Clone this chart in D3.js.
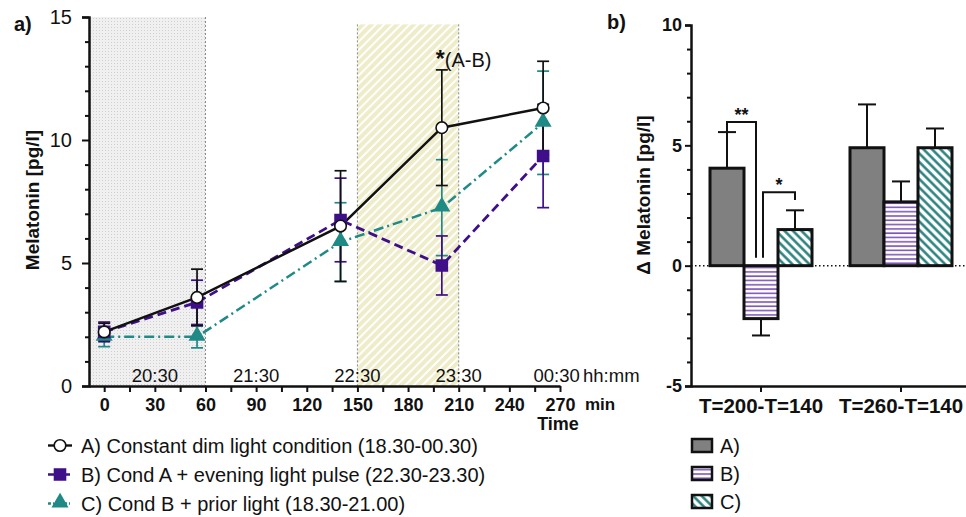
<!DOCTYPE html>
<html>
<head>
<meta charset="utf-8">
<script src="https://cdn.jsdelivr.net/npm/d3@7"></script>
<style>
	body { margin: 0; background: #fff; }
	svg { display: block; font-family: "Liberation Sans", Arial, sans-serif; }
</style>
</head>
<body>
<div id="chart"></div>
<script>
/*global d3*/

//left panel: melatonin over time
var times = [0, 55, 140, 200, 260];
var condA = [2.2, 3.6, 6.5, 10.5, 11.3];
var condAErr = [0.35, 1.15, 2.25, 2.35, 1.9];
var condB = [2.2, 3.4, 6.75, 4.9, 9.35];
var condBErr = [0.4, 0.9, 1.7, 1.2, 2.1];
var condC = [2.0, 2.0, 5.85, 7.25, 10.7];
var condCErr = [0.4, 0.45, 1.6, 1.95, 2.1];
var minuteTicks = [0, 30, 60, 90, 120, 150, 180, 210, 240, 270];
var hourTicks = [30, 90, 150, 210, 268];
var hourLabels = ["20:30", "21:30", "22:30", "23:30", "00:30"];
var dimRegion = [-9, 60, 15];
var pulseRegion = [150, 210, 14.7];
var legendA = ["A) Constant dim light condition (18.30-00.30)",
	"B) Cond A + evening light pulse (22.30-23.30)",
	"C) Cond B + prior light (18.30-21.00)"];

//right panel: delta melatonin
var groups = ["T=200-T=140", "T=260-T=140"];
var conds = ["A)", "B)", "C)"];
var deltaA = [4.05, 4.9];
var deltaAErr = [1.5, 1.8];
var deltaB = [-2.2, 2.65];
var deltaBErr = [0.7, 0.85];
var deltaC = [1.5, 4.9];
var deltaCErr = [0.8, 0.8];

var purple = "#3f0f8a";
var teal = "#1f8a86";

var svg = d3.select("#chart").append("svg")
	.attr("width", 966)
	.attr("height", 517);

var defs = svg.append("defs");

//dotted gray fill for the dim light period
var pDots = defs.append("pattern").attr("id", "dots")
	.attr("width", 3).attr("height", 3).attr("patternUnits", "userSpaceOnUse");
pDots.append("rect").attr("width", 3).attr("height", 3).attr("fill", "#f0f0f0");
pDots.append("rect").attr("width", 1).attr("height", 1).attr("fill", "#cfcfcf");

//yellow hatch for the light pulse
var pYel = defs.append("pattern").attr("id", "yellow")
	.attr("width", 6).attr("height", 6).attr("patternUnits", "userSpaceOnUse")
	.attr("patternTransform", "rotate(45)");
pYel.append("rect").attr("width", 6).attr("height", 6).attr("fill", "#efecc9");
pYel.append("line").attr("x1", 1).attr("y1", 0).attr("x2", 1).attr("y2", 6)
	.attr("stroke", "#fff").attr("stroke-width", 2);

//horizontal stripes for B bars
var pB = defs.append("pattern").attr("id", "stripesB")
	.attr("width", 6).attr("height", 4.3).attr("patternUnits", "userSpaceOnUse");
pB.append("rect").attr("width", 6).attr("height", 4.3).attr("fill", "#fff");
pB.append("line").attr("x1", 0).attr("y1", 1).attr("x2", 6).attr("y2", 1)
	.attr("stroke", "#7b55b6").attr("stroke-width", 1.6);

//diagonal stripes for C bars
var pC = defs.append("pattern").attr("id", "stripesC")
	.attr("width", 6).attr("height", 6).attr("patternUnits", "userSpaceOnUse")
	.attr("patternTransform", "rotate(-45)");
pC.append("rect").attr("width", 6).attr("height", 6).attr("fill", "#fff");
pC.append("line").attr("x1", 1.5).attr("y1", 0).attr("x2", 1.5).attr("y2", 6)
	.attr("stroke", "#1c7a76").attr("stroke-width", 2.4);

/* ---------- panel a ---------- */
var x = d3.scaleLinear().domain([-9, 270]).range([89, 560]);
var y = d3.scaleLinear().domain([0, 15]).range([386, 17]);

//shaded periods
svg.append("rect")
	.attr("x", x(dimRegion[0])).attr("y", y(dimRegion[2]))
	.attr("width", x(dimRegion[1]) - x(dimRegion[0]))
	.attr("height", y(0) - y(dimRegion[2]))
	.attr("fill", "url(#dots)");
svg.append("rect")
	.attr("x", x(pulseRegion[0])).attr("y", y(pulseRegion[2]))
	.attr("width", x(pulseRegion[1]) - x(pulseRegion[0]))
	.attr("height", y(0) - y(pulseRegion[2]))
	.attr("fill", "url(#yellow)");

var borders = [[dimRegion[1], dimRegion[2]], [pulseRegion[0], pulseRegion[2]], [pulseRegion[1], pulseRegion[2]]];
svg.append("g").selectAll("line").data(borders).enter().append("line")
	.attr("x1", function(d){return x(d[0]);})
	.attr("x2", function(d){return x(d[0]);})
	.attr("y1", function(d){return y(d[1]);})
	.attr("y2", y(0))
	.attr("stroke", "#888")
	.attr("stroke-width", 1)
	.attr("stroke-dasharray", "2,2");

//hour labels
svg.append("g").selectAll("text").data(hourTicks).enter().append("text")
	.attr("x", function(d){return x(d);})
	.attr("y", 382)
	.attr("text-anchor", "middle")
	.attr("font-size", "18.5px")
	.attr("fill", "#111")
	.text(function(d, i){return hourLabels[i];});
svg.append("text").attr("x", 583).attr("y", 382)
	.attr("font-size", "18.5px").attr("fill", "#111").text("hh:mm");

//axes
var yAxis = d3.axisLeft(y)
	.tickValues(d3.range(0, 16))
	.tickFormat(function(d){return d % 5 === 0 ? d : "";})
	.tickSize(7).tickPadding(10);
var gy = svg.append("g").attr("transform", "translate(89,0)").call(yAxis);
gy.selectAll(".tick line").attr("x2", function(d){return d % 5 === 0 ? -7 : -4;});
gy.selectAll("text").attr("font-size", "20px").attr("font-family", "Liberation Sans, Arial").attr("fill", "#111");

var xAxis = d3.axisBottom(x)
	.tickValues(d3.range(0, 271, 15))
	.tickFormat(function(d){return minuteTicks.indexOf(d) >= 0 ? d : "";})
	.tickSize(6).tickSizeOuter(0).tickPadding(6);
var gx = svg.append("g").attr("transform", "translate(0,386)").call(xAxis);
gx.selectAll("text").attr("font-size", "18px").attr("font-weight", "bold")
	.attr("font-family", "Liberation Sans, Arial").attr("fill", "#111");

[gx, gy].forEach(function(g){
	g.select(".domain").attr("stroke", "#111").attr("stroke-width", 2.5);
	g.selectAll(".tick line").attr("stroke", "#111").attr("stroke-width", 2);
});

svg.append("text").attr("x", 585).attr("y", 410)
	.attr("font-size", "17px").attr("font-weight", "bold").attr("fill", "#111").text("min");
svg.append("text").attr("x", 558).attr("y", 430).attr("text-anchor", "middle")
	.attr("font-size", "18px").attr("font-weight", "bold").attr("fill", "#111").text("Time");

svg.append("text")
	.attr("transform", "translate(39,200) rotate(-90)")
	.attr("text-anchor", "middle")
	.attr("font-size", "19px").attr("font-weight", "bold").attr("fill", "#111")
	.text("Melatonin [pg/l]");
svg.append("text").attr("x", 14).attr("y", 31)
	.attr("font-size", "20px").attr("font-weight", "bold").attr("fill", "#111").text("a)");

//series
var series = [
	{vals: condC, err: condCErr, color: teal, dash: "10,4,2,4", width: 2.5, shape: d3.symbolTriangle, size: 88, fill: teal},
	{vals: condB, err: condBErr, color: purple, dash: "9,5", width: 2.8, shape: d3.symbolSquare, size: 121, fill: purple},
	{vals: condA, err: condAErr, color: "#111", dash: null, width: 2.5, shape: d3.symbolCircle, size: 105, fill: "#fff"}
];

var line = d3.line()
	.x(function(d){return x(d[0]);})
	.y(function(d){return y(d[1]);});

series.forEach(function(s){
	var pts = times.map(function(t, i){return [t, s.vals[i], s.err[i]];});
	var eb = svg.append("g");
	eb.selectAll("line.v").data(pts).enter().append("line")
		.attr("x1", function(d){return x(d[0]);})
		.attr("x2", function(d){return x(d[0]);})
		.attr("y1", function(d){return y(d[1] - d[2]);})
		.attr("y2", function(d){return y(d[1] + d[2]);})
		.attr("stroke", s.color).attr("stroke-width", 1.7);
	[-1, 1].forEach(function(sign){
		eb.selectAll("line.c" + sign).data(pts).enter().append("line")
			.attr("x1", function(d){return x(d[0]) - 6;})
			.attr("x2", function(d){return x(d[0]) + 6;})
			.attr("y1", function(d){return y(d[1] + sign * d[2]);})
			.attr("y2", function(d){return y(d[1] + sign * d[2]);})
			.attr("stroke", s.color).attr("stroke-width", 1.7);
	});
	s.pts = pts;
});

series.forEach(function(s){
	svg.append("path").datum(s.pts)
		.attr("d", line)
		.attr("fill", "none")
		.attr("stroke", s.color)
		.attr("stroke-width", s.width)
		.attr("stroke-dasharray", s.dash);
});

series.forEach(function(s){
	svg.append("g").selectAll("path").data(s.pts).enter().append("path")
		.attr("d", d3.symbol().type(s.shape).size(s.size))
		.attr("transform", function(d){
			var dy = s.shape === d3.symbolTriangle ? -1 : 0;
			return "translate(" + x(d[0]) + "," + (y(d[1]) + dy) + ")";
		})
		.attr("fill", s.fill)
		.attr("stroke", s.color)
		.attr("stroke-width", 1.6);
});

//significance label
var star = svg.append("text").attr("x", x(200) - 6).attr("y", 67)
	.attr("font-size", "20px").attr("fill", "#111");
star.append("tspan").attr("font-weight", "bold").attr("font-size", "23px").text("*");
star.append("tspan").text("(A-B)");

//legend a
var legA = svg.append("g");
var legSeries = [series[2], series[1], series[0]];
legendA.forEach(function(label, i){
	var s = legSeries[i];
	var cy = 445.5 + i * 29;
	legA.append("line").attr("x1", 48).attr("x2", 72).attr("y1", cy).attr("y2", cy)
		.attr("stroke", s.color).attr("stroke-width", 2.4)
		.attr("stroke-dasharray", s.dash ? (i === 1 ? "6,2" : "3,2,1,2") : null);
	legA.append("path")
		.attr("d", d3.symbol().type(s.shape).size(s.size))
		.attr("transform", "translate(60," + (cy - (i === 2 ? 1 : 0)) + ")")
		.attr("fill", s.fill).attr("stroke", s.color).attr("stroke-width", 1.6);
	legA.append("text").attr("x", 81).attr("y", cy + 7)
		.attr("font-size", "20px").attr("fill", "#111").text(label);
});

/* ---------- panel b ---------- */
var y2 = d3.scaleLinear().domain([-5, 10]).range([386, 25]);
var x2 = d3.scaleBand().domain(groups).range([691, 971])
	.paddingInner(38 / 140).paddingOuter(19 / 140);
var xs = d3.scaleBand().domain(conds).range([0, x2.bandwidth()]);

var barVals = [deltaA, deltaB, deltaC];
var barErrs = [deltaAErr, deltaBErr, deltaCErr];
var barFills = ["#808080", "url(#stripesB)", "url(#stripesC)"];

var bars = [];
groups.forEach(function(g, gi){
	conds.forEach(function(c, ci){
		bars.push({g: g, c: c, ci: ci, v: barVals[ci][gi], e: barErrs[ci][gi]});
	});
});

//zero line
svg.append("line").attr("x1", 691).attr("x2", 966)
	.attr("y1", y2(0)).attr("y2", y2(0))
	.attr("stroke", "#111").attr("stroke-width", 1.5)
	.attr("stroke-dasharray", "1.5,2.5");

//error bars
var ebg = svg.append("g");
ebg.selectAll("line.v").data(bars).enter().append("line")
	.attr("x1", function(d){return x2(d.g) + xs(d.c) + xs.bandwidth() / 2;})
	.attr("x2", function(d){return x2(d.g) + xs(d.c) + xs.bandwidth() / 2;})
	.attr("y1", function(d){return y2(d.v);})
	.attr("y2", function(d){return y2(d.v + (d.v < 0 ? -d.e : d.e));})
	.attr("stroke", "#111").attr("stroke-width", 2);
ebg.selectAll("line.c").data(bars).enter().append("line")
	.attr("x1", function(d){return x2(d.g) + xs(d.c) + xs.bandwidth() / 2 - 9;})
	.attr("x2", function(d){return x2(d.g) + xs(d.c) + xs.bandwidth() / 2 + 9;})
	.attr("y1", function(d){return y2(d.v + (d.v < 0 ? -d.e : d.e));})
	.attr("y2", function(d){return y2(d.v + (d.v < 0 ? -d.e : d.e));})
	.attr("stroke", "#111").attr("stroke-width", 2);

//bars
svg.append("g").selectAll("rect").data(bars).enter().append("rect")
	.attr("x", function(d){return x2(d.g) + xs(d.c);})
	.attr("y", function(d){return y2(Math.max(0, d.v));})
	.attr("width", xs.bandwidth())
	.attr("height", function(d){return Math.abs(y2(d.v) - y2(0));})
	.attr("fill", function(d){return barFills[d.ci];})
	.attr("stroke", "#111")
	.attr("stroke-width", 3);

//significance brackets
var brackets = [
	{g: groups[0], from: "A)", to: "B)", dxl: 0, dxr: -5, top: 5.97, yl: deltaA[0] + deltaAErr[0], yr: 0.33, label: "**"},
	{g: groups[0], from: "B)", to: "C)", dxl: 2, dxr: 0, top: 3.05, yl: 0.33, yr: 2.73, label: "*"}
];
brackets.forEach(function(b){
	var xl = x2(b.g) + xs(b.from) + xs.bandwidth() / 2 + b.dxl;
	var xr = x2(b.g) + xs(b.to) + xs.bandwidth() / 2 + b.dxr;
	svg.append("path")
		.attr("d", "M" + xl + "," + y2(b.yl) + "V" + y2(b.top) + "H" + xr + "V" + y2(b.yr))
		.attr("fill", "none").attr("stroke", "#111").attr("stroke-width", 2);
	svg.append("text").attr("x", (xl + xr) / 2).attr("y", y2(b.top) - 1)
		.attr("text-anchor", "middle").attr("font-size", "18px").attr("font-weight", "bold")
		.attr("fill", "#111").text(b.label);
});

//axes b
var yAxis2 = d3.axisLeft(y2)
	.tickValues(d3.range(-5, 11))
	.tickFormat(function(d){return d % 5 === 0 ? d : "";})
	.tickSize(6).tickPadding(3);
var gy2 = svg.append("g").attr("transform", "translate(691,0)").call(yAxis2);
gy2.selectAll(".tick line").attr("x2", function(d){return d % 5 === 0 ? -6 : -4;});
gy2.selectAll("text").attr("font-size", "18px").attr("font-weight", "bold")
	.attr("font-family", "Liberation Sans, Arial").attr("fill", "#111");

var xAxis2 = d3.axisBottom(x2).tickSize(6).tickSizeOuter(0).tickPadding(6);
var gx2 = svg.append("g").attr("transform", "translate(0,386)").call(xAxis2);
gx2.selectAll("text").attr("font-size", "20.5px").attr("font-weight", "bold")
	.attr("font-family", "Liberation Sans, Arial").attr("fill", "#111");

[gx2, gy2].forEach(function(g){
	g.select(".domain").attr("stroke", "#111").attr("stroke-width", 2.5);
	g.selectAll(".tick line").attr("stroke", "#111").attr("stroke-width", 2);
});

svg.append("text")
	.attr("transform", "translate(650,195) rotate(-90)")
	.attr("text-anchor", "middle")
	.attr("font-size", "19px").attr("font-weight", "bold").attr("fill", "#111")
	.text("\u0394 Melatonin [pg/l]");
svg.append("text").attr("x", 607).attr("y", 29)
	.attr("font-size", "20px").attr("font-weight", "bold").attr("fill", "#111").text("b)");

//legend b
var legB = svg.append("g");
conds.forEach(function(c, i){
	var ty = 439 + i * 28;
	legB.append("rect").attr("x", 692).attr("y", ty).attr("width", 20).attr("height", 13)
		.attr("fill", barFills[i]).attr("stroke", "#111").attr("stroke-width", 2.5);
	legB.append("text").attr("x", 720).attr("y", ty + 13.5)
		.attr("font-size", "20px").attr("fill", "#111").text(c);
});
</script>
</body>
</html>
